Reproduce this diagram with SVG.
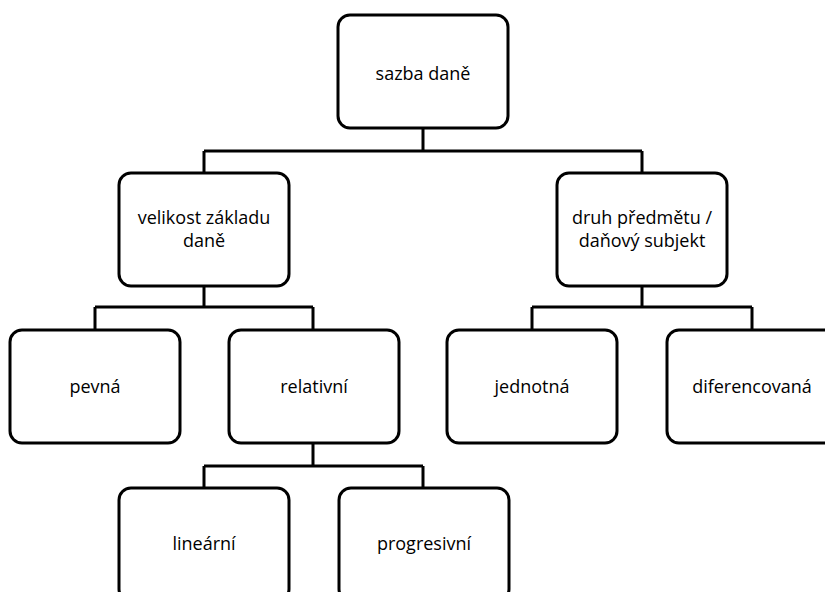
<svg xmlns="http://www.w3.org/2000/svg" width="825" height="592" viewBox="0 0 825 592">
<style>
.box{fill:#fff;stroke:#000;stroke-width:3}
.lbl{font-family:"Open Sans","Noto Sans","Liberation Sans",sans-serif;font-size:18px;fill:#000;text-anchor:middle}
.conn{fill:none;stroke:#000;stroke-width:3}
</style>
<rect width="825" height="592" fill="#fff"/>
<g id="connectors">
<path class="conn" d="M423,128 V151 M204,151 H642 M204,151 V173 M642,151 V173"/>
<path class="conn" d="M204,286 V307 M95,307 H313 M95,307 V330 M313,307 V330"/>
<path class="conn" d="M642,286 V307 M532,307 H752 M532,307 V330 M752,307 V330"/>
<path class="conn" d="M313,443 V466 M204,466 H423 M204,466 V488 M423,466 V488"/>
</g>
<g id="sazba-dane"><rect class="box" x="338" y="15" width="170" height="113" rx="12"/><text class="lbl" x="423" y="80">sazba daně</text></g>
<g id="velikost"><rect class="box" x="119" y="173" width="170" height="113" rx="12"/><text class="lbl" x="204" y="224">velikost základu</text><text class="lbl" x="204" y="247">daně</text></g>
<g id="druh"><rect class="box" x="557" y="173" width="170" height="113" rx="12"/><text class="lbl" x="642" y="224">druh předmětu /</text><text class="lbl" x="642" y="247">daňový subjekt</text></g>
<g id="pevna"><rect class="box" x="10" y="330" width="170" height="113" rx="12"/><text class="lbl" x="95" y="393">pevná</text></g>
<g id="relativni"><rect class="box" x="229" y="330" width="170" height="113" rx="12"/><text class="lbl" x="314" y="393">relativní</text></g>
<g id="jednotna"><rect class="box" x="447" y="330" width="170" height="113" rx="12"/><text class="lbl" x="532" y="393">jednotná</text></g>
<g id="diferencovana"><rect class="box" x="667" y="330" width="170" height="113" rx="12"/><text class="lbl" x="752" y="393">diferencovaná</text></g>
<g id="linearni"><rect class="box" x="119" y="488" width="170" height="113" rx="12"/><text class="lbl" x="204" y="550">lineární</text></g>
<g id="progresivni"><rect class="box" x="339" y="488" width="170" height="113" rx="12"/><text class="lbl" x="424" y="550">progresivní</text></g>
</svg>
